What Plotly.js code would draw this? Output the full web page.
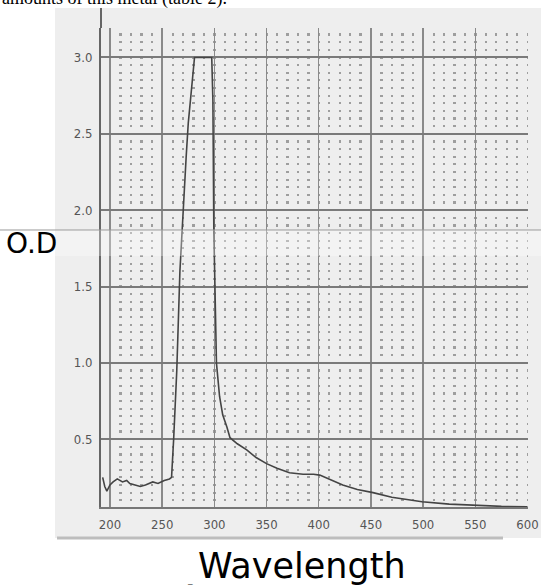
<!DOCTYPE html>
<html>
<head>
<meta charset="utf-8">
<script src="https://cdn.plot.ly/plotly-3.0.1.min.js"></script>
<style>html,body{margin:0;padding:0;background:#fff;}#chart{width:541px;height:588px;}</style>
</head>
<body>
<div id="chart"></div>
<script>
// Wavelength (nm)
var wavelength = [193, 195, 197, 200, 203, 207, 212, 216, 219, 224, 229, 234, 241, 246, 252, 257, 259,
  261, 264, 267, 270, 273, 275, 278, 281,
  297.5, 298.6, 299.5, 302, 305, 308, 312, 315, 322, 331, 340, 350, 360, 372, 385, 395, 401,
  410, 423, 437, 452, 470, 485, 499, 525, 551, 575, 600];
// Optical density
var od = [0.25, 0.19, 0.16, 0.20, 0.22, 0.24, 0.22, 0.23, 0.21, 0.20, 0.19, 0.20, 0.22, 0.21, 0.23, 0.24, 0.25,
  0.50, 0.95, 1.60, 2.02, 2.35, 2.57, 2.80, 3.00,
  3.00, 2.72, 1.87, 1.00, 0.78, 0.66, 0.58, 0.51, 0.47, 0.43, 0.38, 0.34, 0.31, 0.28, 0.27, 0.27, 0.265,
  0.24, 0.20, 0.17, 0.15, 0.12, 0.105, 0.09, 0.075, 0.065, 0.06, 0.058];
var xTicks = [200, 250, 300, 350, 400, 450, 500, 550, 600];
var yTicks = [0.5, 1.0, 1.5, 2.0, 2.5, 3.0];
var yTickText = ['0.5', '1.0', '1.5', '2.0', '2.5', '3.0'];

var tickFont = {family: 'DejaVu Sans Condensed, Liberation Sans Narrow, DejaVu Sans, sans-serif', size: 13, color: '#555'};

var trace = {
  x: wavelength, y: od, type: 'scatter', mode: 'lines',
  line: {color: '#444', width: 1.6}, hoverinfo: 'skip', showlegend: false
};

var layout = {
  width: 541, height: 588,
  margin: {l: 101, r: 13, t: 28, b: 81},
  paper_bgcolor: '#ffffff',
  plot_bgcolor: 'rgba(0,0,0,0)',
  xaxis: {
    range: [191.4, 600.5],
    tickvals: xTicks, ticktext: xTicks.map(String),
    showgrid: true, gridcolor: '#8a8a8a', gridwidth: 1.5,
    zeroline: false, showline: true, linecolor: '#777', linewidth: 2,
    ticks: '', ticklabelstandoff: 4,
    tickfont: tickFont
  },
  yaxis: {
    range: [0.056, 3.193],
    tickvals: yTicks, ticktext: yTickText,
    showgrid: true, gridcolor: '#7a7a7a', gridwidth: 2,
    zeroline: false, showline: true, linecolor: '#666', linewidth: 2,
    ticks: '', ticklabelstandoff: 4,
    tickfont: tickFont,
    minor: {dtick: 0.05, tick0: 0, showgrid: true, gridcolor: '#9e9e9e', gridwidth: 2.2, griddash: '0px,7.9px,2.3px,0.24px', ticks: ''}
  },
  shapes: [
    {type: 'rect', xref: 'paper', yref: 'paper', x0: -0.1077, x1: 1.0304, y0: -0.0647, y1: 1.0418,
     fillcolor: '#eeeeee', line: {width: 0}, layer: 'below'},
    {type: 'line', xref: 'paper', yref: 'paper', x0: -0.1030, x1: 0.9414, y0: -0.0647, y1: -0.0647,
     line: {color: '#bdbdbd', width: 3}, layer: 'below'},
    {type: 'rect', xref: 'paper', yref: 'paper', x0: -0.1077, x1: 1.0304, y0: 0.524, y1: 0.5783,
     fillcolor: 'rgba(255,255,255,0.3)', line: {width: 0}, layer: 'above'},
    {type: 'line', xref: 'paper', yref: 'paper', x0: -0.2365, x1: 1.0304, y0: 0.5783, y1: 0.5783,
     line: {color: '#9a9a9a', width: 1}, layer: 'above'},
    {type: 'line', xref: 'paper', yref: 'paper', x0: 0, x1: 0, y0: 1, y1: 1.0418,
     line: {color: '#666', width: 2}, layer: 'above'}
  ],
  annotations: [
    {text: 'amounts of this metal (table 2).', xref: 'paper', yref: 'paper', x: -0.2365, y: 1.0355,
     xanchor: 'left', yanchor: 'bottom', showarrow: false,
     font: {family: 'Liberation Serif, Times New Roman, serif', size: 18, color: '#000'}},
    {text: 'O.D', xref: 'paper', yref: 'paper', x: -0.1616, y: 0.551, xanchor: 'center', yanchor: 'middle',
     showarrow: false, font: {family: 'DejaVu Sans, sans-serif', size: 28, color: '#000'}},
    {text: 'Wavelength', xref: 'paper', yref: 'paper', x: 0.4707, y: -0.1232, xanchor: 'center', yanchor: 'middle',
     showarrow: false, font: {family: 'DejaVu Sans, sans-serif', size: 35, color: '#000'}},
    {text: '_', xref: 'paper', yref: 'paper', x: 0.208, y: -0.152, xanchor: 'center', yanchor: 'middle',
     showarrow: false, font: {family: 'DejaVu Sans, sans-serif', size: 9, color: '#444'}}
  ]
};

Plotly.newPlot('chart', [trace], layout, {displayModeBar: false, staticPlot: true});
</script>
</body>
</html>
